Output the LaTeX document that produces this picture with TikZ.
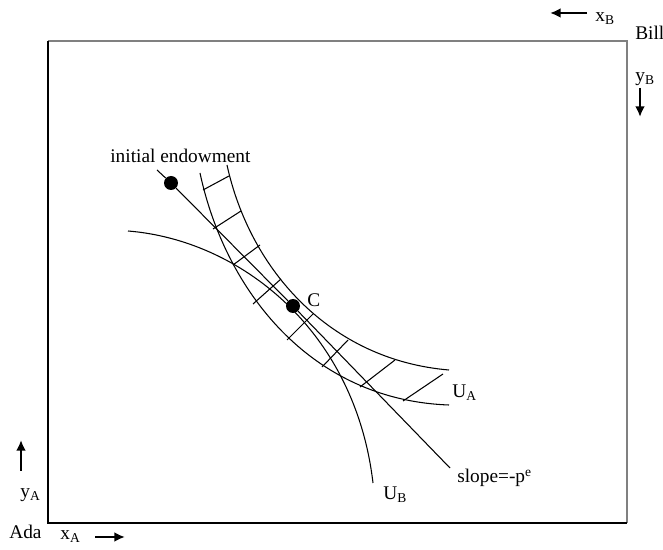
\documentclass[tikz,border=0pt]{standalone}
\usepackage{fontspec}
\setmainfont{Liberation Serif}
\usetikzlibrary{arrows.meta}
\begin{document}
\begin{tikzpicture}[x=0.02cm, y=-0.02cm, font=\fontsize{11}{13}\selectfont,
    curve/.style={line width=0.6pt},
    dir/.style={line width=1.3pt, -{Latex[length=6pt,width=5.5pt]}},
    lbl/.style={anchor=base west, inner sep=0pt},
    dot/.style={circle, fill, inner sep=0pt, minimum size=0.28cm}]
    \useasboundingbox (0,0) rectangle (663,550);

    % Edgeworth box
    \draw[gray, line width=0.7pt] (48,41) -- (627,41) -- (627,523);
    \draw[line width=0.7pt] (48,41) -- (48,523) -- (627,523);

    % corner labels and directions
    \node[lbl] (ada) at (9,539) {Ada};
    \node[lbl] (xA) at (60,540) {x\textsubscript{A}};
    \node[lbl] (yA) at (20,498) {y\textsubscript{A}};
    \node[lbl] (bill) at (635,40) {Bill};
    \node[lbl] (xB) at (595,22) {x\textsubscript{B}};
    \node[lbl] (yB) at (635,82) {y\textsubscript{B}};
    \coordinate (xAa) at (95,537);  \coordinate (xAb) at (125,537);
    \coordinate (yAa) at (21,471);  \coordinate (yAb) at (21,440);
    \coordinate (xBa) at (587,13);  \coordinate (xBb) at (550,13);
    \coordinate (yBa) at (640,88);  \coordinate (yBb) at (640,117);
    \draw[dir] (xAa) -- (xAb);
    \draw[dir] (yAa) -- (yAb);
    \draw[dir] (xBa) -- (xBb);
    \draw[dir] (yBa) -- (yBb);

    % indifference curves
    \draw[curve] (200,173) .. controls (225,290) and (310,400) .. (449,405);
    \draw[curve] (227,165) .. controls (250,270) and (330,360) .. (449,370);
    \foreach \xa/\ya/\xb/\yb in {203/190/229/176, 213/229/241/211, 233/265/260/245,
        253/304/281/279, 287/340/313/314, 322/367/348/340, 360/387/395/360, 403/401/443/374}
      \draw[curve] (\xa,\ya) -- (\xb,\yb);
    \draw[curve] (128,231) .. controls (240,240) and (355,330) .. (373,483);
    \node[lbl] (UA) at (452,398) {U\textsubscript{A}};
    \node[lbl] (UB) at (383,500) {U\textsubscript{B}};

    % budget line
    \node[dot] (endow) at (171,183) {};
    \node[dot] (C) at (293,306) {};
    \coordinate (s0) at (157,170);
    \coordinate (s1) at (450,468);
    \draw[curve] (s0) -- (endow) -- (C) -- (s1);
    \node[lbl] (endowlbl) at (110,163) {initial endowment};
    \node[lbl] (Clbl) at (307,307) {C};
    \node[lbl] (slope) at (457,483) {slope=-p\textsuperscript{e}};
\end{tikzpicture}
\end{document}
